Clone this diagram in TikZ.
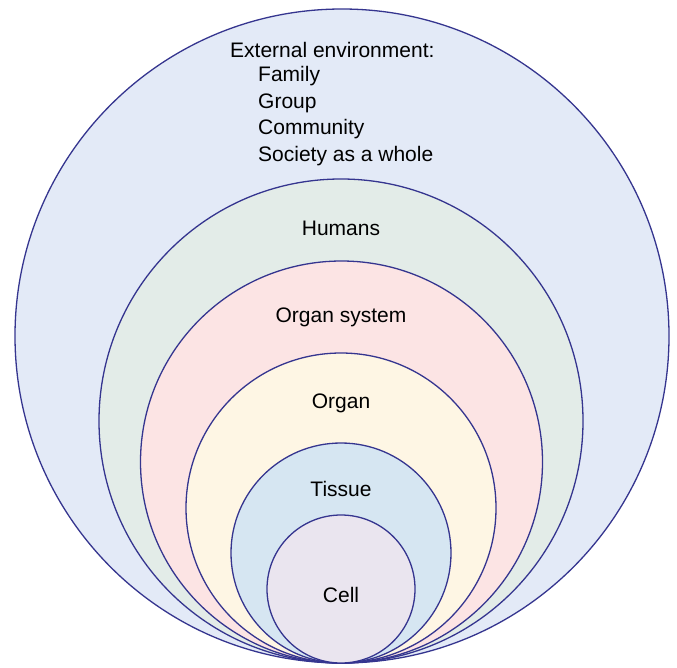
\documentclass[tikz,border=0pt]{standalone}
\usepackage{fontspec}
\setmainfont{Liberation Sans}
\definecolor{edge}{HTML}{35358F}
\definecolor{cEnv}{HTML}{E3EAF7}
\definecolor{cHum}{HTML}{E3ECE8}
\definecolor{cSys}{HTML}{FCE4E4}
\definecolor{cOrg}{HTML}{FEF6E4}
\definecolor{cTis}{HTML}{D6E6F2}
\definecolor{cCel}{HTML}{EAE5EF}
\begin{document}
\begin{tikzpicture}[x=1pt,y=-1pt,
  ring/.style={draw=edge,line width=1.3pt},
  lbl/.style={font=\fontsize{21}{25}\selectfont,inner sep=0pt}]
\useasboundingbox (0,0) rectangle (677,667);
\coordinate (bot) at (342,663);
\filldraw[ring,fill=cEnv] (342,336) circle (327);
\filldraw[ring,fill=cHum] (341,421) circle (242);
\filldraw[ring,fill=cSys] (341.5,462) circle (201);
\filldraw[ring,fill=cOrg] (341,508) circle (155);
\filldraw[ring,fill=cTis] (341,553) circle (110);
\filldraw[ring,fill=cCel] (341,589) circle (74);
\node[lbl,anchor=west] (env) at (230,50) {External environment:};
\node[lbl,anchor=west] (fam) at (258,76) {Family};
\node[lbl,anchor=west] (grp) at (258,103) {Group};
\node[lbl,anchor=west] (com) at (258,129) {Community};
\node[lbl,anchor=west] (soc) at (258,156) {Society as a whole};
\node[lbl] (hum) at (341,228) {Humans};
\node[lbl] (sys) at (341,317) {Organ system};
\node[lbl] (org) at (341,403) {Organ};
\node[lbl] (tis) at (341,489) {Tissue};
\node[lbl] (cel) at (341,595) {Cell};
\end{tikzpicture}
\end{document}
